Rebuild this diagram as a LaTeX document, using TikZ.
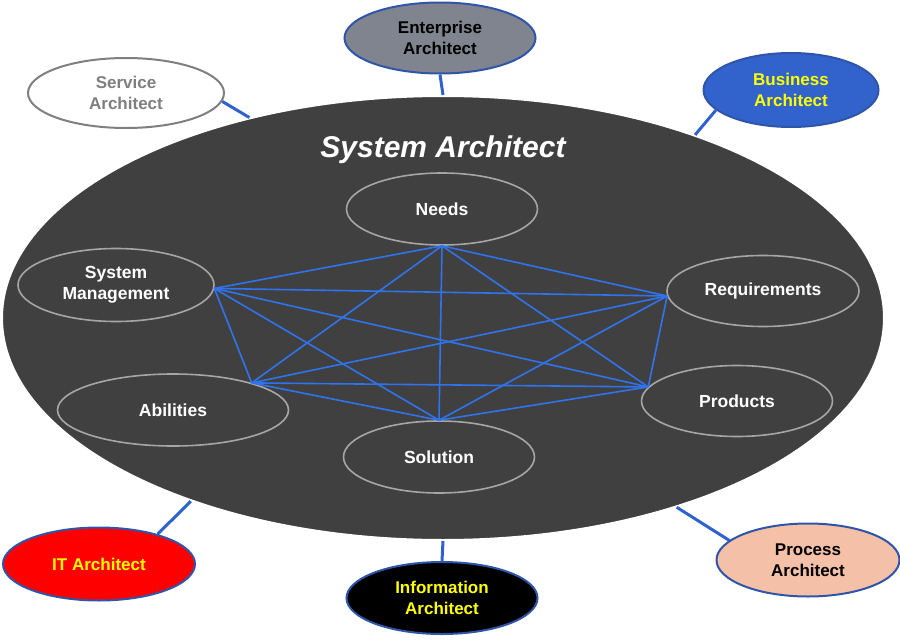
\documentclass[tikz,border=0pt]{standalone}
\usepackage{fontspec}
\setmainfont{Liberation Sans}
\usetikzlibrary{shapes.geometric}
\definecolor{bigfill}{HTML}{404040}
\definecolor{innerline}{HTML}{A6A6A6}
\definecolor{meshblue}{HTML}{2F74EE}
\definecolor{linkblue}{HTML}{2E62D0}
\definecolor{outerline}{HTML}{2F55A8}
\definecolor{entfill}{HTML}{80848F}
\definecolor{busfill}{HTML}{3263CC}
\definecolor{procfill}{HTML}{F4C0A8}
\definecolor{txtyellow}{HTML}{FFFF00}
\definecolor{servgray}{HTML}{7F7F7F}
\begin{document}
\begin{tikzpicture}[x=1pt,y=-1pt,
  inner/.style={ellipse,draw=innerline,line width=1.6pt,inner sep=0pt,
    text=white,font=\fontsize{17.5}{21}\selectfont\bfseries,align=center},
  outer/.style={ellipse,draw=outerline,line width=2pt,inner sep=0pt,
    minimum width=192pt,minimum height=72pt,
    font=\fontsize{17}{21}\selectfont\bfseries,align=center},
  mesh/.style={draw=meshblue,line width=1.6pt},
  link/.style={draw=linkblue,line width=3pt}]
\useasboundingbox (0,0) rectangle (900,640);
\fill[white] (0,0) rectangle (900,640);
% outer architect nodes
\node[outer,draw=servgray,fill=white,text=servgray,minimum width=196pt,minimum height=70pt] (serv) at (126,93) {Service\\Architect};
\node[outer,fill=entfill,text=black,minimum width=191pt,minimum height=71pt] (ent) at (440,38) {Enterprise\\Architect};
\node[outer,fill=busfill,text=txtyellow,minimum width=175pt,minimum height=74pt] (bus) at (791,90) {Business\\Architect};
\node[outer,fill=red,text=txtyellow,minimum width=192pt,minimum height=73pt] (it) at (99,564) {IT Architect};
\node[outer,fill=black,text=txtyellow,minimum width=191pt,minimum height=72pt] (info) at (442,598) {Information\\Architect};
\node[outer,fill=procfill,text=black,minimum width=183pt,minimum height=73pt] (proc) at (808,560) {Process\\Architect};
% big ellipse
\node[ellipse,fill=bigfill,draw=white,line width=2pt,minimum width=882pt,minimum height=444pt,inner sep=0pt] (sys) at (443,318) {};
\node[text=white,font=\fontsize{30}{36}\selectfont\bfseries\itshape] (title) at (443,150) {System Architect};
% links
\draw[link] (serv.355) -- (sys.134);
\draw[link] (ent.south) -- (sys.90);
\draw[link] (bus.195) -- (sys.36);
\draw[link] (it.27) -- (sys.216);
\draw[link] (info.north) -- (sys.270);
\draw[link] (proc.166) -- (sys.321);
% inner nodes
\node[inner,minimum width=191pt,minimum height=72pt] (needs) at (442,209) {Needs};
\node[inner,minimum width=196pt,minimum height=73pt] (sysm) at (116,285) {System\\Management};
\node[inner,minimum width=192pt,minimum height=71pt] (req) at (763,291) {Requirements};
\node[inner,minimum width=231pt,minimum height=72pt] (abil) at (173,410) {Abilities};
\node[inner,minimum width=191pt,minimum height=71pt] (prod) at (737,401) {Products};
\node[inner,minimum width=191pt,minimum height=72pt] (sol) at (439,457) {Solution};
% mesh
\coordinate (pN) at (needs.south);
\coordinate (pM) at (sysm.358);
\coordinate (pR) at (req.183);
\coordinate (pA) at (abil.19);
\coordinate (pP) at (prod.171);
\coordinate (pS) at (sol.north);
\foreach \a/\b in {pN/pM,pN/pR,pN/pA,pN/pP,pN/pS,pM/pR,pM/pA,pM/pP,pM/pS,pR/pA,pR/pP,pR/pS,pA/pP,pA/pS,pP/pS}
  \draw[mesh] (\a) -- (\b);
\end{tikzpicture}
\end{document}
